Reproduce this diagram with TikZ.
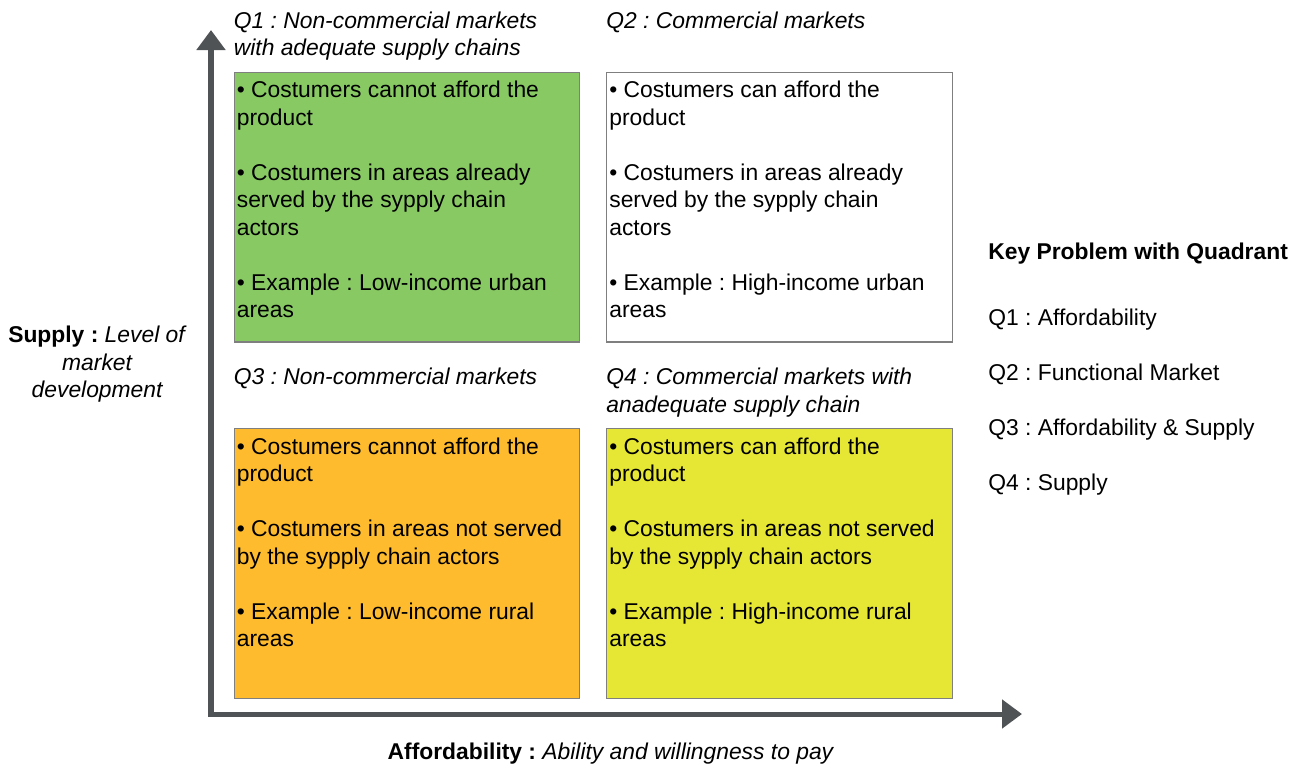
\documentclass[tikz,border=0pt]{standalone}
\usepackage{fontspec}
\setmainfont{Liberation Sans}
\usetikzlibrary{arrows.meta}
\usetikzlibrary{positioning}
\frenchspacing

\definecolor{axisgray}{HTML}{505355}
\definecolor{boxline}{HTML}{7F7F7F}
\definecolor{qgreen}{HTML}{88C964}
\definecolor{qorange}{HTML}{FDBB2D}
\definecolor{qyellow}{HTML}{E6E634}

\begin{document}
\begin{tikzpicture}[x=0.02cm, y=-0.02cm,
		txt/.style={font=\fontsize{13}{15.65}\selectfont, inner sep=0pt, align=left},
		ttl/.style={txt, font=\fontsize{13}{15.65}\selectfont\itshape, anchor=north west},
		quad/.style={draw=boxline, line width=0.6pt, minimum width=6.92cm, minimum height=5.4cm, inner sep=0pt},
		axis/.style={draw=axisgray, line width=2.85pt,
			{Triangle[width=0.56cm,length=0.4cm]}-{Triangle[width=0.56cm,length=0.4cm]}}]
		\useasboundingbox (0,0) rectangle (1302,765);

		% axes
		\coordinate (origin) at (211,714);
		\coordinate (ytip) at (211,30);
		\coordinate (xtip) at (1022,714);
		\draw[axis] (ytip) -- (origin) -- (xtip);

		% quadrant boxes
		\node[quad, fill=qgreen] (q1box) at (407,207) {};
		\node[quad, fill=white] (q2box) at (779.5,207) {};
		\node[quad, fill=qorange] (q3box) at (407,563.5) {};
		\node[quad, fill=qyellow] (q4box) at (779.5,563.5) {};

		% quadrant titles
		\node[ttl] (q1title) at ([shift={(0,-60)}]q1box.north west) {Q1 : Non-commercial markets\\with adequate supply chains};
		\node[ttl] (q2title) at ([shift={(0,-60)}]q2box.north west) {Q2 : Commercial markets};
		\node[ttl] (q3title) at ([shift={(0,-60)}]q3box.north west) {Q3 : Non-commercial markets};
		\node[ttl] (q4title) at ([shift={(0,-60)}]q4box.north west) {Q4 : Commercial markets with\\anadequate supply chain};

		% quadrant texts
		\node[txt, anchor=north west] (q1text) at ([shift={(3,9.5)}]q1box.north west)
			{• Costumers cannot afford the\\product\\[15.65pt]• Costumers in areas already\\served by the sypply chain\\actors\\[15.65pt]• Example : Low-income urban\\areas};
		\node[txt, anchor=north west] (q2text) at ([shift={(3,9.5)}]q2box.north west)
			{• Costumers can afford the\\product\\[15.65pt]• Costumers in areas already\\served by the sypply chain\\actors\\[15.65pt]• Example : High-income urban\\areas};
		\node[txt, anchor=north west] (q3text) at ([shift={(3,9.5)}]q3box.north west)
			{• Costumers cannot afford the\\product\\[15.65pt]• Costumers in areas not served\\by the sypply chain actors\\[15.65pt]• Example : Low-income rural\\areas};
		\node[txt, anchor=north west] (q4text) at ([shift={(3,9.5)}]q4box.north west)
			{• Costumers can afford the\\product\\[15.65pt]• Costumers in areas not served\\by the sypply chain actors\\[15.65pt]• Example : High-income rural\\areas};

		% axis labels
		\node[txt, align=center, anchor=north] (supplylabel) at (97.5,326)
			{\textbf{Supply :} \textit{Level of}\\\textit{market}\\\textit{development}};
		\node[txt, anchor=base] (afflabel) at (611,759)
			{\textbf{Affordability :} \textit{Ability and willingness to pay}};

		% key
		\node[txt, anchor=base west] (keytitle) at (988,259) {\textbf{Key Problem with Quadrant}};
		\node[txt, anchor=base west] (key1) at (988,325) {Q1 : Affordability};
		\node[txt, anchor=base west] (key2) at (988,380) {Q2 : Functional Market};
		\node[txt, anchor=base west] (key3) at (988,435) {Q3 : Affordability \& Supply};
		\node[txt, anchor=base west] (key4) at (988,490) {Q4 : Supply};
	\end{tikzpicture}
\end{document}
